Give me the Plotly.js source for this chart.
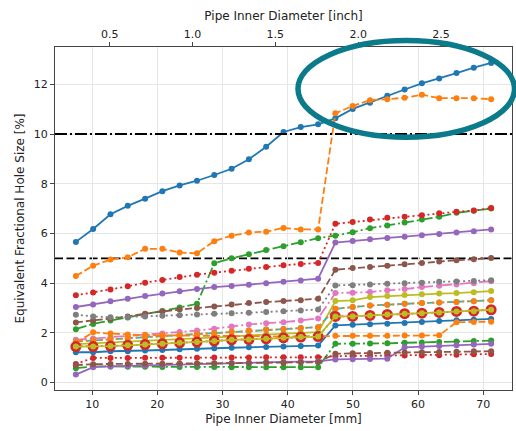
<!DOCTYPE html>
<html>
<head>
<meta charset="utf-8">
<script src="https://cdn.plot.ly/plotly-3.0.1.min.js"></script>
<style>html,body{margin:0;padding:0;background:#fff}#chart{width:516px;height:431px}</style>
</head>
<body>
<div id="chart"></div>
<script>
// Pipe inner diameter [mm]
const diameterMm = [7.5, 10.15, 12.81, 15.46, 18.12, 20.77, 23.42, 26.08, 28.73, 31.39, 34.04, 36.69, 39.35, 42.0, 44.66, 47.31, 49.96, 52.62, 55.27, 57.93, 60.58, 63.23, 65.89, 68.54, 71.2];

const blueTop   = [5.66, 6.18, 6.77, 7.11, 7.40, 7.70, 7.93, 8.12, 8.35, 8.60, 8.98, 9.49, 10.08, 10.28, 10.39, 10.63, 11.01, 11.26, 11.54, 11.79, 12.04, 12.23, 12.45, 12.67, 12.86];
const orangeTop = [4.29, 4.70, 4.95, 5.04, 5.38, 5.38, 5.23, 5.20, 5.69, 5.91, 6.04, 6.07, 6.22, 6.16, 6.16, 10.83, 11.13, 11.36, 11.40, 11.46, 11.58, 11.44, 11.44, 11.44, 11.40];
const greenTop  = [2.15, 2.36, 2.50, 2.62, 2.75, 2.88, 3.02, 3.17, 4.80, 5.00, 5.16, 5.33, 5.48, 5.65, 5.81, 5.91, 6.05, 6.21, 6.32, 6.44, 6.56, 6.67, 6.83, 6.91, 7.00];
const redTop    = [3.51, 3.62, 3.74, 3.87, 4.02, 4.13, 4.25, 4.34, 4.42, 4.50, 4.58, 4.65, 4.72, 4.77, 4.81, 6.39, 6.46, 6.56, 6.63, 6.67, 6.73, 6.81, 6.87, 6.92, 7.02];
const purpleTop = [3.04, 3.14, 3.27, 3.37, 3.48, 3.58, 3.67, 3.76, 3.84, 3.88, 3.94, 4.00, 4.06, 4.11, 4.18, 5.63, 5.70, 5.77, 5.82, 5.87, 5.93, 5.98, 6.04, 6.09, 6.16];
const brownTop  = [2.42, 2.50, 2.57, 2.66, 2.77, 2.86, 2.94, 3.00, 3.06, 3.14, 3.20, 3.24, 3.28, 3.31, 3.37, 4.54, 4.61, 4.65, 4.70, 4.76, 4.81, 4.87, 4.92, 4.96, 5.01];
const pinkVals  = [1.72, 1.77, 1.82, 1.87, 1.92, 1.97, 2.03, 2.09, 2.17, 2.26, 2.34, 2.39, 2.43, 2.50, 2.58, 3.60, 3.61, 3.64, 3.71, 3.76, 3.84, 3.90, 3.95, 4.00, 4.08];
const grayVals  = [2.73, 2.66, 2.63, 2.63, 2.66, 2.69, 2.71, 2.74, 2.77, 2.79, 2.81, 2.84, 2.87, 2.90, 2.94, 3.91, 3.92, 3.95, 3.98, 4.00, 4.02, 4.06, 4.07, 4.09, 4.12];
const oliveTop  = [1.55, 1.58, 1.61, 1.64, 1.67, 1.70, 1.73, 1.76, 1.80, 1.85, 1.90, 1.94, 1.98, 2.01, 2.03, 3.28, 3.31, 3.44, 3.48, 3.52, 3.55, 3.58, 3.60, 3.63, 3.68];
const cyanVals  = [1.65, 1.70, 1.75, 1.79, 1.83, 1.87, 1.91, 1.95, 1.99, 2.04, 2.09, 2.13, 2.16, 2.20, 2.23, 2.97, 3.04, 3.10, 3.13, 3.17, 3.20, 3.22, 3.24, 3.27, 3.31];
const orangeDot = [1.65, 1.70, 1.75, 1.79, 1.83, 1.87, 1.91, 1.95, 1.99, 2.04, 2.09, 2.13, 2.16, 2.20, 2.23, 2.97, 3.04, 3.10, 3.13, 3.17, 3.20, 3.22, 3.24, 3.27, 3.31];
const blueLow   = [1.22, 1.22, 1.26, 1.26, 1.29, 1.31, 1.34, 1.36, 1.38, 1.40, 1.42, 1.43, 1.45, 1.47, 1.49, 2.30, 2.33, 2.35, 2.37, 2.40, 2.44, 2.48, 2.51, 2.53, 2.56];
const orangeLow = [1.60, 2.02, 1.97, 1.93, 1.91, 1.90, 1.89, 1.88, 1.87, 1.86, 1.86, 1.86, 1.86, 1.86, 1.87, 1.88, 1.88, 1.88, 1.88, 1.89, 1.89, 1.90, 2.43, 2.44, 2.45];
const greenLow  = [0.58, 0.65, 0.65, 0.64, 0.64, 0.63, 0.63, 0.63, 0.63, 0.62, 0.62, 0.62, 0.62, 0.62, 0.62, 1.56, 1.56, 1.57, 1.58, 1.60, 1.61, 1.63, 1.65, 1.67, 1.69];
const redLow    = [0.75, 0.99, 0.99, 0.99, 1.00, 1.00, 1.00, 1.00, 1.01, 1.01, 1.01, 1.02, 1.02, 1.02, 1.02, 1.06, 1.07, 1.08, 1.09, 1.09, 1.09, 1.10, 1.12, 1.14, 1.15];
const purpleLow = [0.32, 0.62, 0.65, 0.67, 0.69, 0.71, 0.73, 0.75, 0.77, 0.78, 0.80, 0.81, 0.83, 0.84, 0.85, 0.93, 0.94, 0.95, 0.96, 1.42, 1.45, 1.47, 1.50, 1.53, 1.56];
const brownLow  = [0.70, 0.74, 0.75, 0.75, 0.76, 0.76, 0.77, 0.77, 0.78, 0.78, 0.79, 0.80, 0.80, 0.81, 0.82, 1.16, 1.18, 1.19, 1.20, 1.21, 1.22, 1.23, 1.24, 1.26, 1.26];
const redBig    = [1.45, 1.45, 1.47, 1.50, 1.53, 1.56, 1.60, 1.63, 1.67, 1.72, 1.73, 1.76, 1.80, 1.83, 1.85, 2.66, 2.66, 2.70, 2.74, 2.77, 2.79, 2.82, 2.86, 2.87, 2.93];
const oliveLow  = [1.45, 1.45, 1.47, 1.50, 1.53, 1.56, 1.60, 1.63, 1.67, 1.72, 1.73, 1.76, 1.80, 1.83, 1.85, 2.66, 2.66, 2.70, 2.74, 2.77, 2.79, 2.82, 2.86, 2.87, 2.93];

const mmTicks = [10, 20, 30, 40, 50, 60, 70];
const inchTicks = [0.5, 1.0, 1.5, 2.0, 2.5];
const inchTickText = ['0.5', '1.0', '1.5', '2.0', '2.5'];
const yTicks = [0, 2, 4, 6, 8, 10, 12];
const thresholdHigh = 10;
const thresholdLow = 5;
const mmPerInch = 25.4;

const C = {blue:'#1f77b4', orange:'#ff7f0e', green:'#2ca02c', red:'#d62728', purple:'#9467bd',
           brown:'#8c564b', pink:'#e377c2', gray:'#7f7f7f', olive:'#bcbd22', cyan:'#17becf'};
const DASH = {solid:'solid', dashed:'7px,3px', dashdot:'11px,3px,2px,3px', dotted:'2px,3px'};

function tr(y, color, style, msize) {
  return {x: diameterMm, y: y, type:'scatter', mode:'lines+markers', showlegend:false, hoverinfo:'skip',
          line:{color:color, width:1.8, dash:DASH[style]}, marker:{color:color, size:msize||6}};
}

const traces = [
  tr(blueTop, C.blue, 'solid'),
  tr(orangeTop, C.orange, 'dashed'),
  tr(greenTop, C.green, 'dashdot'),
  tr(redTop, C.red, 'dotted'),
  tr(purpleTop, C.purple, 'solid'),
  tr(brownTop, C.brown, 'dashed'),
  tr(pinkVals, C.pink, 'dashdot'),
  tr(grayVals, C.gray, 'dotted'),
  tr(oliveTop, C.olive, 'solid'),
  tr(cyanVals, C.cyan, 'dashed'),
  tr(blueLow, C.blue, 'solid'),
  tr(orangeLow, C.orange, 'dashed'),
  tr(greenLow, C.green, 'dashdot'),
  tr(redLow, C.red, 'dotted'),
  tr(purpleLow, C.purple, 'solid'),
  tr(brownLow, C.brown, 'dashed'),
  tr(orangeDot, C.orange, 'dotted'),
  tr(redBig, C.red, 'dotted', 11),
  tr(oliveLow, C.olive, 'solid'),
  {x: diameterMm.map(v => v / mmPerInch), y: blueTop, xaxis:'x2', yaxis:'y', type:'scatter', mode:'markers',
   marker:{opacity:0}, showlegend:false, hoverinfo:'skip'}
];

const xr = [4.3, 74.4];
const axisFont = {family:'DejaVu Sans, sans-serif', size:11, color:'#222'};
const titleFont = {family:'DejaVu Sans, sans-serif', size:12, color:'#222'};

const layout = {
  width:516, height:431,
  margin:{l:55, r:4, t:47, b:41},
  paper_bgcolor:'#fff', plot_bgcolor:'#fff',
  showlegend:false,
  xaxis:{range:xr, tickvals:mmTicks, ticks:'outside', ticklen:4, tickwidth:1, tickcolor:'#444',
         showline:true, linecolor:'#444', linewidth:1, mirror:false, zeroline:false,
         showgrid:true, gridcolor:'#e6e6e6', gridwidth:1, tickfont:axisFont,
         title:{text:'Pipe Inner Diameter [mm]', font:titleFont, standoff:4}},
  xaxis2:{range:xr.map(v => v / mmPerInch), overlaying:'x', side:'top', tickvals:inchTicks, ticktext:inchTickText,
          ticks:'outside', ticklen:4, tickwidth:1, tickcolor:'#444', showline:true, linecolor:'#444', linewidth:1,
          showgrid:false, zeroline:false, tickfont:axisFont,
          title:{text:'Pipe Inner Diameter [inch]', font:titleFont, standoff:4}},
  yaxis:{range:[-0.299, 13.5], tickvals:yTicks, ticks:'outside', ticklen:4, tickwidth:1, tickcolor:'#444',
         showline:true, linecolor:'#444', linewidth:1, mirror:true, zeroline:false,
         showgrid:true, gridcolor:'#e6e6e6', gridwidth:1, tickfont:axisFont,
         title:{text:'Equivalent Fractional Hole Size [%]', font:titleFont, standoff:6}},
  shapes:[
    {type:'line', xref:'paper', x0:0, x1:1, yref:'y', y0:thresholdHigh, y1:thresholdHigh, layer:'above',
     line:{color:'#000', width:1.8, dash:'12px,3px,2px,3px'}},
    {type:'line', xref:'paper', x0:0, x1:1, yref:'y', y0:thresholdLow, y1:thresholdLow, layer:'below',
     line:{color:'#000', width:1.8, dash:'8px,3.5px'}},
    {type:'circle', xref:'paper', yref:'paper', x0:0.5317, x1:1.0055, y0:0.737, y1:1.019, layer:'above',
     line:{color:'#0b7a8a', width:5.5}}
  ]
};

Plotly.newPlot('chart', traces, layout, {displayModeBar:false, staticPlot:true});
</script>
</body>
</html>
